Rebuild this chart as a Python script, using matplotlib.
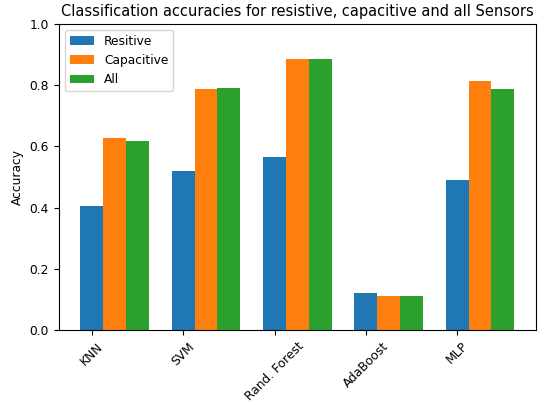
import matplotlib
matplotlib.use("Agg")
import matplotlib.pyplot as plt
import numpy as np

categories = ["KNN", "SVM", "Rand. Forest", "AdaBoost", "MLP"]
resistive = [0.405, 0.520, 0.565, 0.121, 0.490]
capacitive = [0.627, 0.787, 0.886, 0.111, 0.814]
all_sensors = [0.617, 0.791, 0.886, 0.111, 0.788]
series_labels = ["Resitive", "Capacitive", "All"]

fig = plt.figure(figsize=(5.45, 4.05), dpi=100)
ax = fig.add_axes([0.1077, 0.185, 0.8758, 0.756])

x = np.arange(len(categories))
w = 0.25
ax.bar(x, resistive, w, label=series_labels[0], color="#1f77b4")
ax.bar(x + w, capacitive, w, label=series_labels[1], color="#ff7f0e")
ax.bar(x + 2 * w, all_sensors, w, label=series_labels[2], color="#2ca02c")

ax.set_ylim(0, 1.0)
ax.set_xticks(x)
ax.set_xticklabels(categories, rotation=45, fontsize=8.8)
ax.tick_params(axis="y", labelsize=8.8)
ax.set_ylabel("Accuracy", fontsize=8.8)
ax.set_title("Classification accuracies for resistive, capacitive and all Sensors", fontsize=10.5)
ax.legend(loc="upper left", fontsize=8.8)

fig.savefig("out.png", dpi=100)
